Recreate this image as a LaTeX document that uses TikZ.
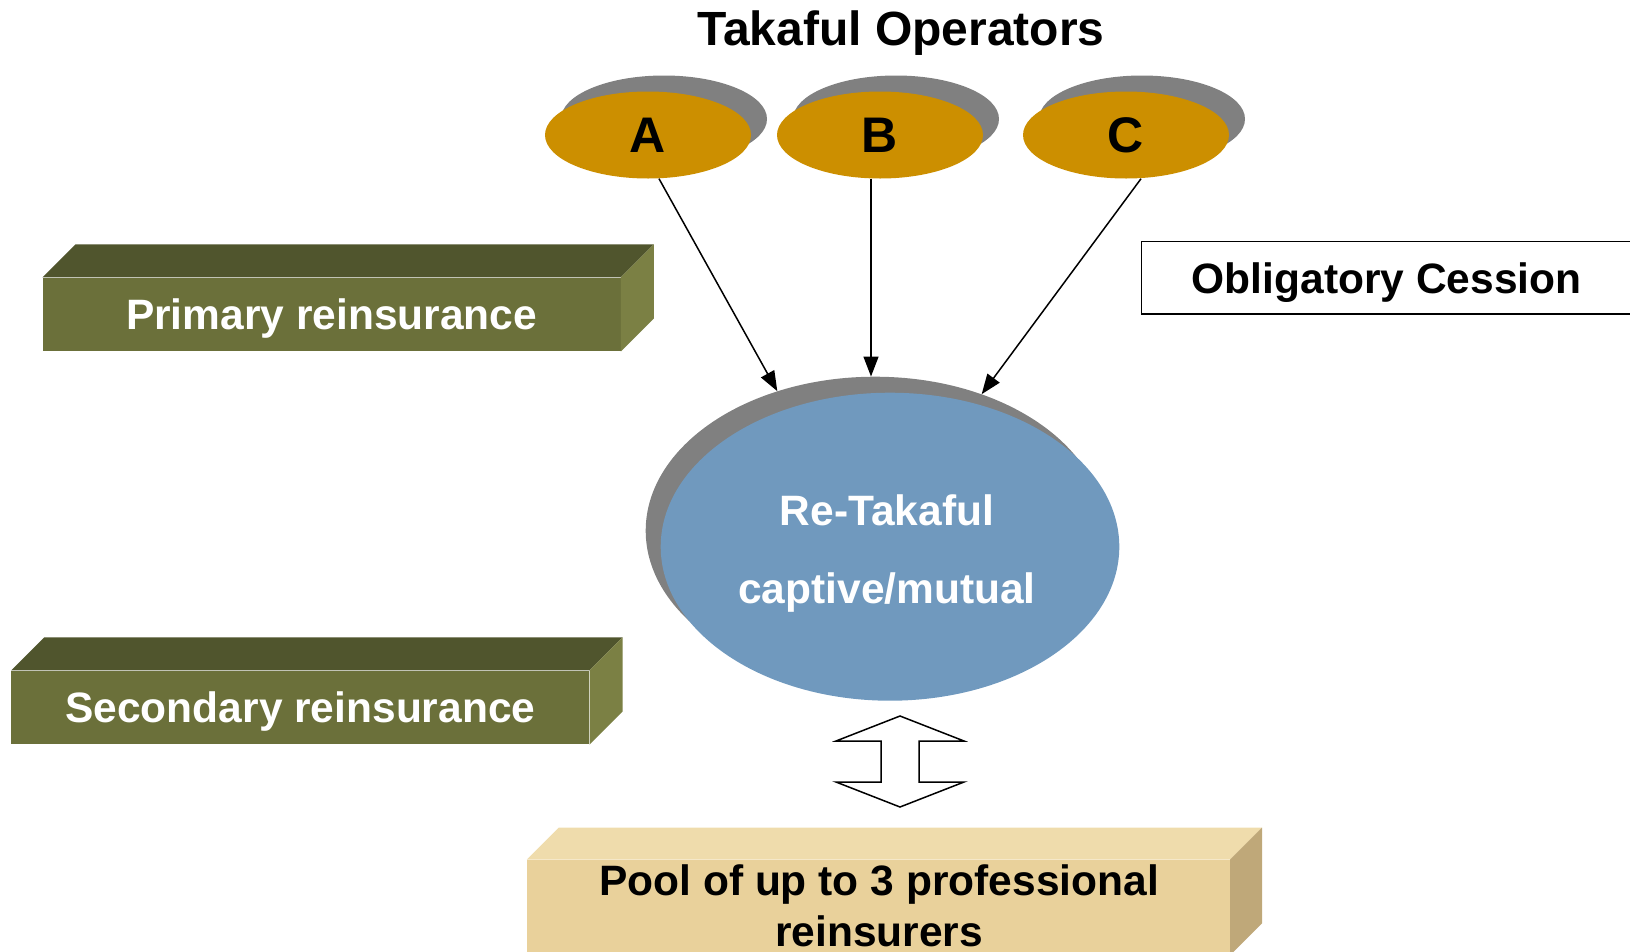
\documentclass[tikz,border=0pt]{standalone}
\usepackage{fontspec}
\setmainfont{Liberation Sans}
\usetikzlibrary{shapes.geometric,arrows.meta}
\definecolor{gold}{HTML}{CC8F00}
\definecolor{shadowgrey}{HTML}{808080}
\definecolor{blueE}{HTML}{7099BE}
\definecolor{oliveF}{HTML}{6B703A}
\definecolor{oliveT}{HTML}{50552D}
\definecolor{oliveR}{HTML}{7B8044}
\definecolor{sandF}{HTML}{E9D19B}
\definecolor{sandT}{HTML}{EFDCAC}
\definecolor{sandR}{HTML}{BFA879}
\begin{document}
\begin{tikzpicture}[x=1pt,y=-1pt,
  opshadow/.style={ellipse, fill=shadowgrey, minimum width=206pt, minimum height=87pt, inner sep=0pt},
  op/.style={ellipse, fill=gold, minimum width=206pt, minimum height=87pt, inner sep=0pt,
    font=\fontsize{50}{60}\selectfont\bfseries},
  bigtext/.style={inner sep=0pt, font=\fontsize{42.5}{51}\selectfont\bfseries, align=center},
  link/.style={line width=1.5pt, -{Triangle[length=20pt,width=15pt]}},
]
\useasboundingbox (0,0) rectangle (1630,951);

% title
\node[font=\fontsize{48}{58}\selectfont\bfseries, text depth=0pt] (title) at (901,28) {Takaful Operators};

% operators
\node[opshadow] (As) at (664,119) {};
\node[opshadow] (Bs) at (896,119) {};
\node[opshadow] (Cs) at (1142,119) {};
\node[op] (A) at (648,135) {A};
\node[op] (B) at (880,135) {B};
\node[op] (C) at (1126,135) {C};

% re-takaful
\node[ellipse, fill=shadowgrey, minimum width=458.6pt, minimum height=308pt, inner sep=0pt] (Rs) at (875,530.7) {};
\node[ellipse, fill=blueE, minimum width=458.6pt, minimum height=308pt, inner sep=0pt] (R) at (890,546.7) {};
\node[bigtext, text=white, font=\fontsize{42.5}{78}\selectfont\bfseries] (Rtext) at (887,554) {Re-Takaful\\captive/mutual};

% arrows
\coordinate (as) at ([xshift=11pt]A.south);
\coordinate (bs) at ([xshift=-9pt]B.south);
\coordinate (cs) at ([xshift=15pt]C.south);
\draw[link] (as) -- (Rs.125.4);
\draw[link] (bs) -- (bs |- Rs.north);
\draw[link] (cs) -- (Rs.52.5);

% obligatory cession
\node[bigtext, draw=black, line width=1.5pt, text depth=0pt, minimum width=490.6pt, minimum height=72.7pt] (obl) at (1386.7,277.6) {Obligatory Cession};

% primary reinsurance
\node[bigtext, fill=oliveF, text=white, text depth=0pt, minimum width=578pt, minimum height=73.9pt] (P) at (331.6,314.5) {Primary reinsurance};
\fill[oliveT] (P.north west) -- ++(33,-33) -- ([shift={(33,-33)}]P.north east) -- (P.north east) -- cycle;
\fill[oliveR] (P.north east) -- ++(33,-33) -- ([shift={(33,-33)}]P.south east) -- (P.south east) -- cycle;

% secondary reinsurance
\node[bigtext, fill=oliveF, text=white, text depth=0pt, minimum width=578pt, minimum height=73.8pt] (S) at (300.4,707.4) {Secondary reinsurance};
\fill[oliveT] (S.north west) -- ++(33,-33) -- ([shift={(33,-33)}]S.north east) -- (S.north east) -- cycle;
\fill[oliveR] (S.north east) -- ++(33,-33) -- ([shift={(33,-33)}]S.south east) -- (S.south east) -- cycle;

% double arrow
\draw[line width=1.5pt, fill=white, line join=miter]
  (900,716) -- (964,741) -- (919,741) -- (919,782) -- (964,782) -- (900,807)
  -- (836,782) -- (881,782) -- (881,741) -- (836,741) -- cycle;

% pool
\node[fill=sandF, inner sep=0pt, minimum width=702.8pt, minimum height=95.3pt] (Pool) at (878.4,907.4) {};
\fill[sandT] (Pool.north west) -- ++(32,-32) -- ([shift={(32,-32)}]Pool.north east) -- (Pool.north east) -- cycle;
\fill[sandR] (Pool.north east) -- ++(32,-32) -- ([shift={(32,-32)}]Pool.south east) -- (Pool.south east) -- cycle;
\node[bigtext] (Pooltext) at (879,906) {Pool of up to 3 professional\\reinsurers};
\end{tikzpicture}
\end{document}
